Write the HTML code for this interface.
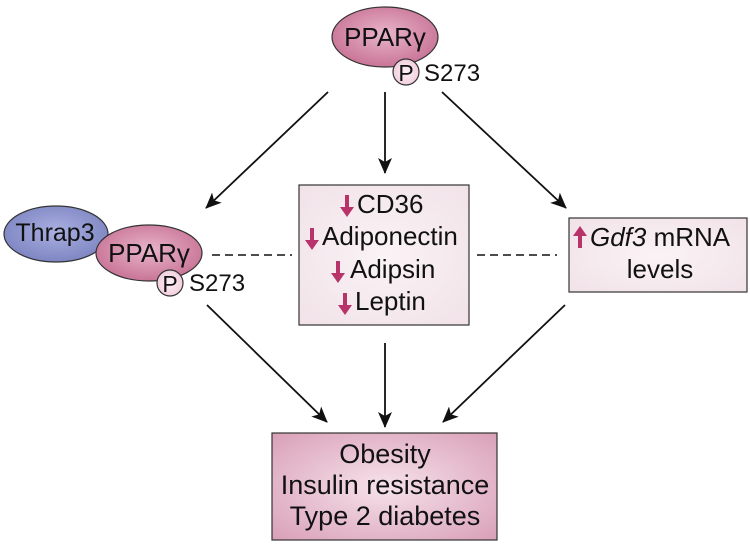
<!DOCTYPE html>
<html><head><meta charset="utf-8"><style>
html,body{margin:0;padding:0;background:#fff;width:750px;height:544px;overflow:hidden}
text{font-family:"Liberation Sans",sans-serif;fill:#111}
</style></head><body>
<svg width="750" height="544" viewBox="0 0 750 544" xmlns="http://www.w3.org/2000/svg">
<defs>
<radialGradient id="pk" cx="50%" cy="45%" r="60%"><stop offset="0" stop-color="#e8b5c9"/><stop offset="1" stop-color="#c66e92"/></radialGradient>
<radialGradient id="bl" cx="50%" cy="45%" r="60%"><stop offset="0" stop-color="#aab0e0"/><stop offset="1" stop-color="#7a82c0"/></radialGradient>
<radialGradient id="pc" cx="50%" cy="50%" r="60%"><stop offset="0" stop-color="#fdf0f5"/><stop offset="1" stop-color="#efc8d8"/></radialGradient>
<radialGradient id="bx" cx="50%" cy="50%" r="70%"><stop offset="0" stop-color="#faf3f6"/><stop offset="1" stop-color="#f1e2e8"/></radialGradient>
<radialGradient id="bb" cx="50%" cy="50%" r="70%"><stop offset="0" stop-color="#f6e2ea"/><stop offset="1" stop-color="#d9a0b8"/></radialGradient>
<marker id="ah" markerWidth="16" markerHeight="14" refX="15" refY="7" orient="auto" markerUnits="userSpaceOnUse"><path d="M0,0 L16,7 L0,14 L4,7 Z" fill="#111"/></marker>
</defs>
<g stroke="#111" stroke-width="1.8" fill="none" marker-end="url(#ah)">
<line x1="328" y1="92" x2="206" y2="208"/>
<line x1="385" y1="92" x2="385" y2="173"/>
<line x1="442" y1="92" x2="566" y2="208"/>
<line x1="207" y1="305" x2="327" y2="422"/>
<line x1="385" y1="343" x2="385" y2="427"/>
<line x1="565" y1="305" x2="443" y2="422"/>
</g>
<g stroke="#111" stroke-width="1.4" stroke-dasharray="8,5">
<line x1="212" y1="255" x2="292" y2="255"/>
<line x1="477" y1="255" x2="557" y2="255"/>
</g>
<!-- top -->
<ellipse cx="385" cy="37" rx="53" ry="30" fill="url(#pk)" stroke="#333" stroke-width="1.2"/>
<text x="385" y="46" font-size="26" text-anchor="middle">PPARγ</text>
<circle cx="406" cy="72" r="13" fill="url(#pc)" stroke="#333" stroke-width="1.2"/>
<text x="406" y="81" font-size="23" text-anchor="middle">P</text>
<text x="424" y="81" font-size="24">S273</text>
<!-- left -->
<ellipse cx="56" cy="234" rx="52" ry="28" fill="url(#bl)" stroke="#333" stroke-width="1.2"/>
<text x="55" y="241" font-size="25" text-anchor="middle">Thrap3</text>
<ellipse cx="149" cy="253" rx="53" ry="28" fill="url(#pk)" stroke="#333" stroke-width="1.2"/>
<text x="149" y="262" font-size="26" text-anchor="middle">PPARγ</text>
<circle cx="170" cy="283" r="13" fill="url(#pc)" stroke="#333" stroke-width="1.2"/>
<text x="170" y="292" font-size="23" text-anchor="middle">P</text>
<text x="189" y="291" font-size="24">S273</text>
<!-- center box -->
<rect x="299" y="185" width="170" height="140" fill="url(#bx)" stroke="#333" stroke-width="1.2"/>
<!-- right box -->
<rect x="569" y="218" width="178" height="74" fill="url(#bx)" stroke="#333" stroke-width="1.2"/>
<g fill="#b8336a">
<path d="M345,195 h4 v12 h5 l-7,10 l-7,-10 h5 z"/>
<path d="M310,228 h4 v12 h5 l-7,10 l-7,-10 h5 z"/>
<path d="M336,261 h4 v12 h5 l-7,10 l-7,-10 h5 z"/>
<path d="M343,293 h4 v12 h5 l-7,10 l-7,-10 h5 z"/>
<path d="M578,248 h4 v-12 h5 l-7,-10 l-7,10 h5 z"/>
</g>
<text x="357" y="213" font-size="26">CD36</text>
<text x="322" y="245" font-size="26">Adiponectin</text>
<text x="350" y="278" font-size="26">Adipsin</text>
<text x="355" y="310" font-size="26">Leptin</text>
<text x="590" y="246" font-size="26"><tspan font-style="italic">Gdf3</tspan> mRNA</text>
<text x="660" y="278" font-size="26" text-anchor="middle">levels</text>
<!-- bottom box -->
<rect x="272" y="433" width="225" height="107" fill="url(#bb)" stroke="#333" stroke-width="1.2"/>
<text x="385" y="463" font-size="27" text-anchor="middle">Obesity</text>
<text x="385" y="494" font-size="27" text-anchor="middle">Insulin resistance</text>
<text x="385" y="525" font-size="27" text-anchor="middle">Type 2 diabetes</text>
</svg>
</body></html>
